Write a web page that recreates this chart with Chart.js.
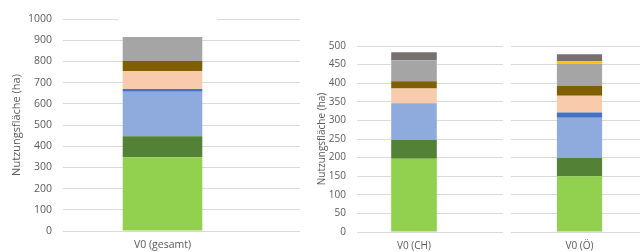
<!DOCTYPE html>
<html>
<head>
<meta charset="utf-8">
<script src="https://cdn.jsdelivr.net/npm/chart.js@4.4.1/dist/chart.umd.min.js"></script>
<style>
  html, body { margin: 0; padding: 0; background: #fff; }
  body { width: 640px; height: 252px; overflow: hidden; position: relative; }
  .box { position: absolute; top: 0; }
  .box canvas { display: block; }
</style>
</head>
<body>
<div class="box" style="left:0px"><canvas id="gesamtChart" width="300" height="252"></canvas></div>
<div class="box" style="left:300px"><canvas id="chChart" width="203" height="252"></canvas></div>
<div class="box" style="left:511px"><canvas id="oeChart" width="137" height="252"></canvas></div>
<script>
// Kategorien
const gesamtLabels = ['V0 (gesamt)'];
const chLabels = ['V0 (CH)'];
const oeLabels = ['V0 (Ö)'];

// Nutzungsflächen je Segment (ha), von unten nach oben
const gesamtValues = [348, 99, 210, 13, 85, 47, 113, 0, 0];
const chValues = [197, 50, 99, 0, 40, 19, 57, 0, 21];
const oeValues = [150, 49, 108, 14, 45, 27, 59, 7, 19];

// Achsen
const gesamtMax = 1000, gesamtStep = 100;
const landMax = 500, landStep = 50;
const yTitle = 'Nutzungsfläche (ha)';

const seriesColors = ['#92D050', '#538135', '#8FAADC', '#4472C4', '#F8CBAD', '#7F6000', '#A5A5A5', '#FFC000', '#767171'];
const gridColor = '#D9D9D9';
const textColor = '#595959';
const fontFamily = '"Open Sans", "Liberation Sans", sans-serif';

// verlängert die Gitterlinien nach rechts, blendet eine Lücke in der obersten Linie aus
const gridExtend = {
    id: 'gridExtend',
    afterDraw(chart, args, opts) {
        const { ctx, chartArea, scales: { y } } = chart;
        ctx.save();
        if (opts.right) {
            ctx.strokeStyle = gridColor;
            ctx.lineWidth = 1;
            y.ticks.forEach((t, i) => {
                // gleiche Pixel-Ausrichtung wie Chart.js
                const py = Math.round(y.getPixelForTick(i) - 0.5) + 0.5;
                ctx.beginPath();
                ctx.moveTo(chartArea.right, py);
                ctx.lineTo(chartArea.right + opts.right, py);
                ctx.stroke();
            });
        }
        if (opts.gap) {
            const py = y.getPixelForValue(y.max);
            ctx.fillStyle = '#fff';
            ctx.fillRect(opts.gap[0], py - 2, opts.gap[1] - opts.gap[0], 4);
        }
        ctx.restore();
    }
};

function makeDatasets(values, barPct) {
    return values.map((v, i) => ({
        label: 'Segment ' + (i + 1),
        data: [v],
        backgroundColor: seriesColors[i],
        borderWidth: 0,
        barPercentage: barPct,
        categoryPercentage: 1
    }));
}

function makeChart(id, labels, values, cfg) {
    const ctx = document.getElementById(id).getContext('2d');
    return new Chart(ctx, {
        type: 'bar',
        data: { labels: labels, datasets: makeDatasets(values, cfg.barPct) },
        options: {
            responsive: false,
            animation: false,
            devicePixelRatio: 1,
            layout: { padding: { top: cfg.top, right: cfg.padRight, bottom: 0, left: 0 } },
            plugins: {
                legend: { display: false },
                tooltip: { enabled: false },
                gridExtend: { right: cfg.extend, gap: cfg.gap }
            },
            scales: {
                x: {
                    stacked: true,
                    grid: { display: false, drawTicks: false },
                    border: { display: false },
                    ticks: { color: textColor, font: { family: fontFamily, size: cfg.xFont }, padding: cfg.xPad },
                    afterFit: (axis) => { axis.height = cfg.xHeight; }
                },
                y: {
                    stacked: true,
                    min: 0,
                    max: cfg.max,
                    grid: { color: gridColor, drawTicks: false },
                    border: { display: false },
                    ticks: {
                        display: cfg.showY,
                        stepSize: cfg.step,
                        color: textColor,
                        padding: 11,
                        font: { family: fontFamily, size: cfg.yFont },
                        callback: (v) => String(v)
                    },
                    title: {
                        display: cfg.showY,
                        text: yTitle,
                        color: textColor,
                        font: { family: fontFamily, size: cfg.titleFont },
                        padding: { top: cfg.titlePad, bottom: 0 }
                    },
                    afterFit: (axis) => { axis.width = cfg.yWidth; }
                }
            }
        },
        plugins: [gridExtend]
    });
}

makeChart('gesamtChart', gesamtLabels, gesamtValues, {
    max: gesamtMax, step: gesamtStep, barPct: 0.4, top: 19, padRight: 38, extend: 38,
    gap: [118, 217], xHeight: 21, xPad: 8, xFont: 10.5, yFont: 10.5, titleFont: 11, titlePad: 10,
    yWidth: 63, showY: true
});

makeChart('chChart', chLabels, chValues, {
    max: landMax, step: landStep, barPct: 0.4, top: 46, padRight: 32, extend: 32,
    gap: null, xHeight: 20, xPad: 8, xFont: 10, yFont: 10, titleFont: 10, titlePad: 16,
    yWidth: 57, showY: true
});

makeChart('oeChart', oeLabels, oeValues, {
    max: landMax, step: landStep, barPct: 0.33, top: 46, padRight: 0, extend: 0,
    gap: null, xHeight: 20, xPad: 8, xFont: 10, yFont: 10, titleFont: 10, titlePad: 0,
    yWidth: 0, showY: false
});
</script>
</body>
</html>
